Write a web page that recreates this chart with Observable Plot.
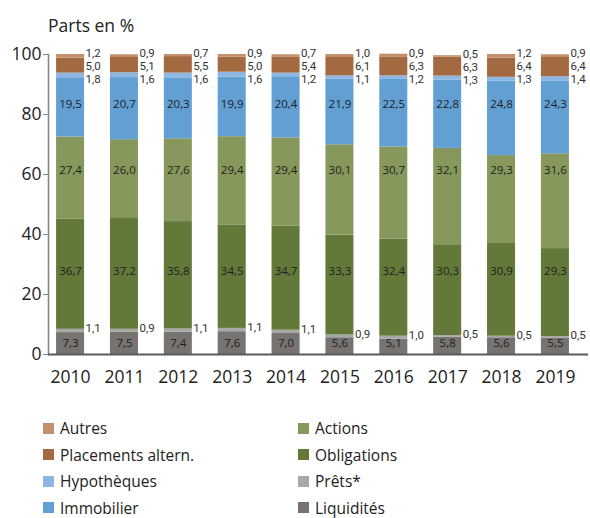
<!DOCTYPE html>
<html>
<head>
<meta charset="utf-8">
<script src="https://cdn.jsdelivr.net/npm/d3@7"></script>
<script src="https://cdn.jsdelivr.net/npm/@observablehq/plot@0.6"></script>
<style>
  html, body { margin: 0; padding: 0; background: #fff; }
  body { width: 590px; height: 518px; overflow: hidden; font-family: "Open Sans", sans-serif; color: #222; }
  #title { height: 40px; box-sizing: border-box; padding-top: 14px; padding-left: 48px; font-size: 17.5px; line-height: 22px; }
  #chart svg { overflow: visible; display: block; }
  #legend { display: grid; grid-template-columns: 255px 255px; grid-auto-flow: column; grid-template-rows: repeat(4, 26.5px); padding-left: 43px; margin-top: 21px; font-size: 15.5px; }
  .item { display: flex; align-items: center; }
  .sw { width: 11px; height: 11px; margin-right: 6px; flex: none; }
</style>
</head>
<body>
<div id="title">Parts en %</div>
<div id="chart"></div>
<div id="legend"></div>
<script>
const years = ["2010","2011","2012","2013","2014","2015","2016","2017","2018","2019"];
const seriesNames = ["Liquidités","Prêts*","Obligations","Actions","Immobilier","Hypothèques","Placements altern.","Autres"];
const liquidites  = [7.3,7.5,7.4,7.6,7.0,5.6,5.1,5.8,5.6,5.5];
const prets       = [1.1,0.9,1.1,1.1,1.1,0.9,1.0,0.5,0.5,0.5];
const obligations = [36.7,37.2,35.8,34.5,34.7,33.3,32.4,30.3,30.9,29.3];
const actions     = [27.4,26.0,27.6,29.4,29.4,30.1,30.7,32.1,29.3,31.6];
const immobilier  = [19.5,20.7,20.3,19.9,20.4,21.9,22.5,22.8,24.8,24.3];
const hypotheques = [1.8,1.6,1.6,1.6,1.2,1.1,1.2,1.3,1.3,1.4];
const placements  = [5.0,5.1,5.5,5.0,5.4,6.1,6.3,6.3,6.4,6.4];
const autres      = [1.2,0.9,0.7,0.9,0.7,1.0,0.9,0.5,1.2,0.9];
const yTicks = [0,20,40,60,80,100];
const colors = ["#767371","#a8a8a8","#62793a","#86985c","#62a0d4","#8db6e2","#a36a41","#c3906d"];

const values = [liquidites, prets, obligations, actions, immobilier, hypotheques, placements, autres];
const rows = [];
seriesNames.forEach((s, i) => years.forEach((y, j) => rows.push({year: y, series: s, value: values[i][j]})));

const fmt = v => d3.format(".1f")(v).replace(".", ",");
const stackBase = (i, j) => d3.sum(values.slice(0, i), a => a[j]);
const stackMid = (i, j) => stackBase(i, j) + values[i][j] / 2;
const stackTop = (i, j) => stackBase(i, j) + values[i][j];
const colTotal = j => d3.sum(values, a => a[j]);

// inside labels: one row per series, aligned on the first column's segment
function insideLabels(i, dy) {
  return Plot.text(years, {x: d => d, y: () => stackMid(i, 0), text: (d, j) => fmt(values[i][j]),
    dy, fontSize: 11.5, fill: "#1e1e1e"});
}
function sideLabels(i, yf, dy) {
  return Plot.text(years, {x: d => d, y: (d, j) => yf(j), text: (d, j) => fmt(values[i][j]),
    dx: 15, dy, textAnchor: "start", fontSize: 11.5, fontFamily: "Roboto, sans-serif", lineHeight: 1, fill: "#333"});
}

const plot = Plot.plot({
  width: 590,
  height: 354,
  marginTop: 14,
  marginBottom: 40,
  marginLeft: 48,
  marginRight: 2,
  style: {fontFamily: "'Open Sans', sans-serif", color: "#222", background: "transparent"},
  x: {domain: years, range: [48, 577], paddingInner: 0.48, paddingOuter: 0.15, round: false, label: null},
  y: {domain: [0, 100], label: null},
  color: {domain: seriesNames, range: colors},
  marks: [
    Plot.barY(rows, {x: "year", y: "value", fill: "series"}),
    Plot.frame({anchor: "left", stroke: "#888", strokeWidth: 1.6}),
    Plot.ruleY([0], {stroke: "#5a5a5a", strokeWidth: 1.8}),
    Plot.axisY({ticks: yTicks, tickSize: 5, tickPadding: 2, fontSize: 17.5, stroke: "#888", fill: "#222", label: null, tickFormat: d => d}),
    Plot.axisX({tickSize: 0, tickPadding: 16, fontSize: 17.5, fill: "#222", label: null}),
    insideLabels(0, 0),
    insideLabels(2, -3),
    insideLabels(3, -8),
    insideLabels(4, -3),
    sideLabels(1, j => stackTop(1, j), -1),
    sideLabels(5, j => colTotal(j), 25),
    sideLabels(6, j => colTotal(j), 12),
    sideLabels(7, j => colTotal(j), -1)
  ]
});
document.getElementById("chart").appendChild(plot);

// legend, two columns filled top-to-bottom
const legendOrder = ["Autres","Placements altern.","Hypothèques","Immobilier","Actions","Obligations","Prêts*","Liquidités"];
const legend = d3.select("#legend");
legendOrder.forEach(name => {
  const it = legend.append("div").attr("class", "item");
  it.append("div").attr("class", "sw").style("background", colors[seriesNames.indexOf(name)]);
  it.append("span").text(name);
});
</script>
</body>
</html>
